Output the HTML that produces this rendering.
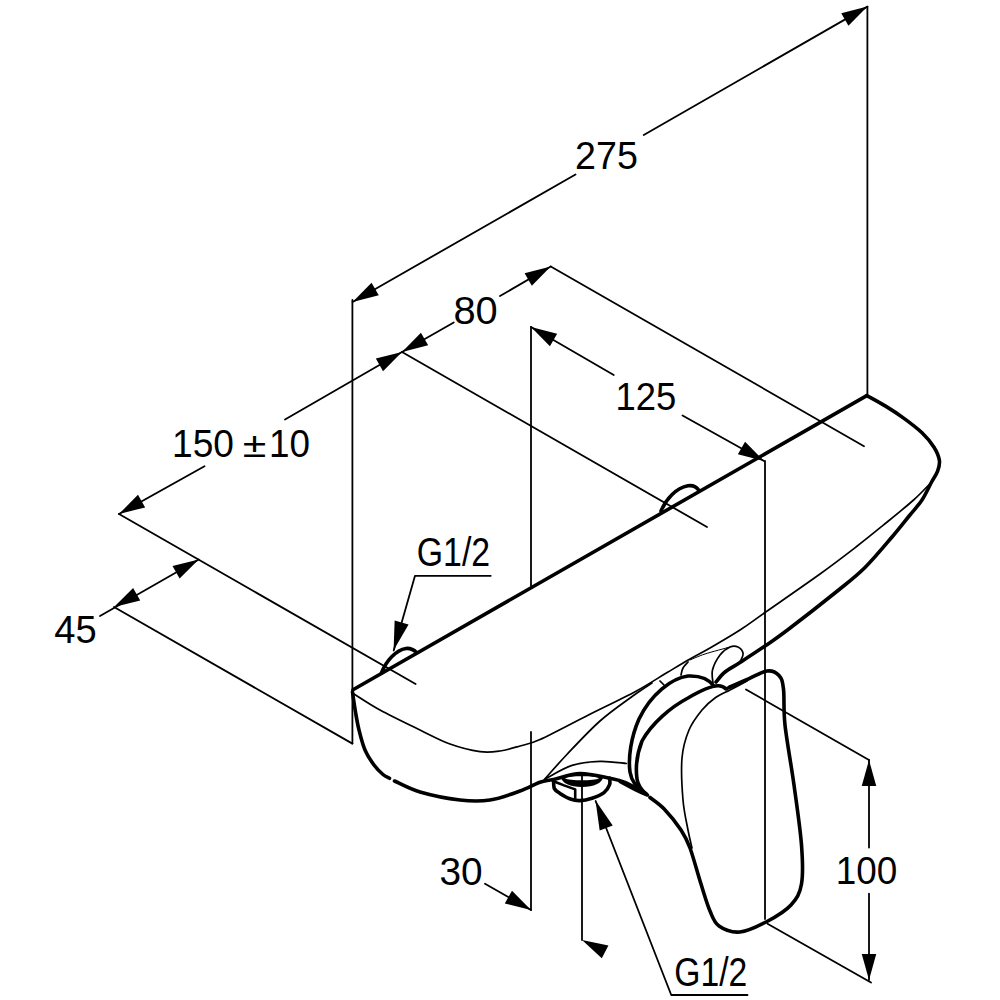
<!DOCTYPE html>
<html><head><meta charset="utf-8"><style>
html,body{margin:0;padding:0;background:#fff;}
svg{display:block;}
</style></head><body>
<svg width="1000" height="1000" viewBox="0 0 1000 1000">
<rect width="1000" height="1000" fill="#fff"/>
<g fill="none" stroke="#000" stroke-linecap="round" stroke-linejoin="round">
<line x1="867.4" y1="6.6" x2="643.75" y2="135" stroke-width="1.8"/>
<line x1="575.5" y1="174.5" x2="352.6" y2="302" stroke-width="1.8"/>
<line x1="867.4" y1="6.6" x2="867.4" y2="396" stroke-width="1.8"/>
<line x1="352.4" y1="300" x2="352.4" y2="743.6" stroke-width="1.8"/>
<line x1="402" y1="352" x2="453.75" y2="322.5" stroke-width="1.8"/>
<line x1="500" y1="296" x2="550.75" y2="266.5" stroke-width="1.8"/>
<line x1="550.75" y1="266.5" x2="864" y2="446.2" stroke-width="1.8"/>
<line x1="402" y1="352" x2="707" y2="527" stroke-width="1.8"/>
<line x1="119" y1="514" x2="204.5" y2="466.25" stroke-width="1.8"/>
<line x1="285" y1="419.5" x2="402" y2="352" stroke-width="1.8"/>
<line x1="119" y1="514" x2="415.6" y2="684" stroke-width="1.8"/>
<line x1="198.75" y1="559.5" x2="100" y2="616" stroke-width="1.8"/>
<line x1="114" y1="607" x2="352.4" y2="743.6" stroke-width="1.8"/>
<line x1="531" y1="327" x2="613.75" y2="375" stroke-width="1.8"/>
<line x1="682.5" y1="415.5" x2="764" y2="461" stroke-width="1.8"/>
<line x1="531" y1="327" x2="531" y2="586" stroke-width="1.8"/>
<line x1="531" y1="732" x2="531" y2="910" stroke-width="1.8"/>
<line x1="765" y1="461" x2="765" y2="919" stroke-width="1.8"/>
<line x1="485" y1="883.75" x2="531" y2="910" stroke-width="1.8"/>
<line x1="582" y1="776" x2="582" y2="940" stroke-width="1.8"/>
<line x1="869" y1="760" x2="869" y2="847.5" stroke-width="1.8"/>
<line x1="869" y1="893.75" x2="869" y2="980" stroke-width="1.8"/>
<line x1="746" y1="689.5" x2="869" y2="760" stroke-width="1.8"/>
<line x1="767.5" y1="923.75" x2="871" y2="982.5" stroke-width="1.8"/>
<polyline points="490.75,575.8 415,575.8 393.7,650.5" stroke-width="1.8"/>
<polyline points="747.5,995 671.25,995 595.6,801" stroke-width="1.8"/>
<line x1="353" y1="689.8" x2="866.8" y2="395.6" stroke-width="3.6"/>
<path d="M381.5,673 C386,661 396,650 406,648.5 C410.5,648 414,650 416.5,652.5" stroke-width="3.6"/>
<path d="M661,511 C666,499 676,488 688,485.8 C693,485 697,487.5 699,490.5" stroke-width="3.6"/>
<path d="M866.8,395.6 C870,397.4 879.8,402.6 886,406.4 C892.2,410.2 898,414 904,418.4 C910,422.8 917,428 922,432.8 C927,437.6 931.1,442.6 934,447.2 C936.9,451.8 938.8,456.4 939.4,460.4 C940,464.4 938.9,467.6 937.6,471.2 C936.3,474.8 934.2,477.2 931.6,482 C929,486.8 925.68,494.42 922,500 C918.32,505.58 914.5,509.33 909.5,515.5 C904.5,521.67 899.42,528.33 892,537 C884.58,545.67 874,558.58 865,567.5 C856,576.42 850.92,580.08 838,590.5 C825.08,600.92 799.67,620.75 787.5,630 C775.33,639.25 772.92,640.58 765,646 C757.08,651.42 746.67,658.17 740,662.5 C733.33,666.83 729,668.75 725,672 C721,675.25 717.5,680.33 716,682" stroke-width="3.6"/>
<path d="M931.6,482 C928.6,485 921.7,492.77 913.6,500 C905.5,507.23 892.6,517.57 883,525.4 C873.4,533.23 866.5,538.9 856,547 C845.5,555.1 835.17,563.08 820,574 C804.83,584.92 778.33,603.17 765,612.5 C751.67,621.83 749.17,624.08 740,630 C730.83,635.92 718.33,643.17 710,648 C701.67,652.83 697,655 690,659 C683,663 677,666.63 668,672 C659,677.37 649.33,684 636,691.2 C622.67,698.4 604,707.15 588,715.2 C572,723.25 551.33,734.37 540,739.5 C528.67,744.63 526.67,744.08 520,746 C513.33,747.92 506.67,750.07 500,751 C493.33,751.93 488.33,752.77 480,751.6 C471.67,750.43 460,747.6 450,744 C440,740.4 431.67,735.67 420,730 C408.33,724.33 391.25,716.17 380,710 C368.75,703.83 357.08,695.83 352.5,693" stroke-width="1.7"/>
<path d="M352.5,692 C353,695.33 354.42,705.67 355.5,712 C356.58,718.33 357.42,723.67 359,730 C360.58,736.33 362.5,744.17 365,750 C367.5,755.83 371,760.92 374,765 C377,769.08 380.42,772.28 383,774.5 C385.58,776.72 388.42,777.67 389.5,778.3" stroke-width="3.6"/>
<path d="M394.5,781 C398.75,782.83 409.08,788.83 420,792 C430.92,795.17 448.33,798.67 460,800 C471.67,801.33 480,801.5 490,800 C500,798.5 511.67,793.97 520,791 C528.33,788.03 534.4,784.12 540,782.2 C545.6,780.28 546.93,780.95 553.6,779.5 C560.27,778.05 570.67,773.72 580,773.5 C589.33,773.28 602.1,776.72 609.6,778.2 C617.1,779.68 618.93,779.83 625,782.4 C631.07,784.97 642.5,791.73 646,793.6" stroke-width="3.6"/>
<path d="M553.6,780 C553.73,781.43 553.33,786.37 554.4,788.6 C555.47,790.83 557.33,791.67 560,793.4 C562.67,795.13 567.07,797.8 570.4,799 C573.73,800.2 576.4,800.73 580,800.6 C583.6,800.47 588,799.53 592,798.2 C596,796.87 601.07,794.87 604,792.6 C606.93,790.33 608.67,787.03 609.6,784.6 C610.53,782.17 609.6,779.1 609.6,778" stroke-width="3.6"/>
<polyline points="556,782.2 564,785.4 575.2,789.4 575.2,798.5" stroke-width="2.6"/>
<path d="M650,797.5 C652.37,799.42 659.03,803.58 664.2,809 C669.37,814.42 676.7,823.5 681,830 C685.3,836.5 686.67,839 690,848 C693.33,857 697.67,873.5 701,884 C704.33,894.5 707,904 710,911 C713,918 714,922.5 719,926 C724,929.5 732,932.75 740,932 C748,931.25 758.5,926 767,921.5 C775.5,917 785.25,911.25 791,905 C796.75,898.75 799.75,894 801.5,884 C803.25,874 802.75,861.5 801.5,845 C800.25,828.5 796.75,805 794,785 C791.25,765 786.75,741 785,725 C783.25,709 784.5,697.25 783.5,689 C782.5,680.75 781.75,678.5 779,675.5 C776.25,672.5 772.5,670.25 767,671 C761.5,671.75 752.17,677.33 746,680 C739.83,682.67 732.67,685.83 730,687" stroke-width="3.6"/>
<path d="M620,781.4 C623,783 633.43,788.73 638,791 C642.57,793.27 645.83,794.33 647.4,795" stroke-width="3.6"/>
<path d="M544,780 C547.73,775.83 557.07,764.83 566.4,755 C575.73,745.17 588.93,730.83 600,721 C611.07,711.17 624.13,702.33 632.8,696 C641.47,689.67 648.8,685.17 652,683" stroke-width="1.7"/>
<path d="M545,779 C549.5,776.73 562.83,768.33 572,765.4 C581.17,762.47 590.93,761.72 600,761.4 C609.07,761.08 622,763.15 626.4,763.5" stroke-width="1.7"/>
<path d="M714,686 C708,678 698,675.5 688,676 C672,678 651,694 639,719 C631,737 628,758 630,772 C631.5,782 638,789 646,794" stroke-width="3.6"/>
<path d="M730,687 L726,689 C724,687 722,685.6 718,685.8 C711,686 700,691 688,698 C671,707 652,723 642,741 C636.5,755 635.5,768 637,779 C638,786 641.5,790 646,794" stroke-width="3.6"/>
<path d="M747,681 C744.17,682.5 735.33,687.17 730,690 C724.67,692.83 719.67,694.67 715,698 C710.33,701.33 706.33,704.67 702,710 C697.67,715.33 692.33,722 689,730 C685.67,738 683,746.33 682,758 C681,769.67 682,788 683,800 C684,812 686.5,822 688,830 C689.5,838 691.33,845 692,848" stroke-width="1.7"/>
<path d="M713,683 C712.92,680.83 711.33,674.67 712.5,670 C713.67,665.33 717.08,658.83 720,655 C722.92,651.17 727,648.33 730,647 C733,645.67 735.83,646 738,647 C740.17,648 742.5,650.83 743,653 C743.5,655.17 742,658 741,660 C740,662 737.67,664.17 737,665" stroke-width="1.7"/>
<path d="M730,647 C725.83,648.17 711.67,651.83 705,654 C698.33,656.17 692.5,659 690,660" stroke-width="1.0"/>
<path d="M688,662 C687.17,663 684.17,665.83 683,668 C681.83,670.17 681.33,673.83 681,675" stroke-width="1.7"/>
<path d="M660,681 C660.67,681.67 663.33,684.33 664,685" stroke-width="1.7"/>
</g>
<g fill="#000">
<polygon class="a" points="867.4,6.6 848.46,25.83 841.24,13.25"/>
<polygon class="a" points="352.6,302 371.54,282.77 378.76,295.35"/>
<polygon class="a" points="550.75,266.5 531.82,285.74 524.6,273.17"/>
<polygon class="a" points="402,352 420.93,332.76 428.15,345.33"/>
<polygon class="a" points="402,352 383.04,371.21 375.83,358.62"/>
<polygon class="a" points="119,514 137.96,494.79 145.17,507.38"/>
<polygon class="a" points="198.75,559.5 179.61,578.54 172.52,565.89"/>
<polygon class="a" points="114,607 133.14,587.96 140.23,600.61"/>
<polygon class="a" points="531,327 557.15,333.68 549.92,346.25"/>
<polygon class="a" points="764,461 737.85,454.32 745.08,441.75"/>
<polygon class="a" points="531,910 504.82,903.41 512.01,890.82"/>
<polygon class="a" points="582,940 608.43,945.47 601.79,958.36"/>
<polygon class="a" points="869,760 876.25,786 861.75,786"/>
<polygon class="a" points="869,980 861.75,954 876.25,954"/>
<polygon class="a" points="393.6,650.3 394.64,620.43 408.57,624.43"/>
<polygon class="a" points="595.5,800.5 612.73,825.45 599.68,830.53"/>
<path class="f" d="M561,777.5 C566,773.5 598,773.5 603,777.5 C602,783 594,787 582,787 C570,787 562,783 561,777.5 Z M565,778.2 C569,781 595,781 599,778.2 C595,775.6 569,775.6 565,778.2 Z"/>
</g>
<g fill="#000" style="font-family:'Liberation Sans', sans-serif;">
<text transform="translate(575.12,168.61) scale(0.3766,0.3944)" font-size="100">275</text>
<text transform="translate(453.41,323.61) scale(0.3981,0.3944)" font-size="100">80</text>
<text transform="translate(172.03,456.61) scale(0.3710,0.3873)" font-size="100">150</text>
<text transform="translate(242.71,457) scale(0.4286,0.3500)" font-size="100">±</text>
<text transform="translate(269.05,456.61) scale(0.3687,0.3873)" font-size="100">10</text>
<text transform="translate(54.24,642.61) scale(0.3810,0.3857)" font-size="100">45</text>
<text transform="translate(615.58,409.61) scale(0.3645,0.3873)" font-size="100">125</text>
<text transform="translate(439.45,884.61) scale(0.3883,0.3944)" font-size="100">30</text>
<text transform="translate(835.8,884.11) scale(0.3694,0.3873)" font-size="100">100</text>
<text transform="translate(416.81,566.09) scale(0.3382,0.4054)" font-size="100">G1/2</text>
<text transform="translate(674.32,986.09) scale(0.3370,0.4054)" font-size="100">G1/2</text>
</g>
</svg>
</body></html>
